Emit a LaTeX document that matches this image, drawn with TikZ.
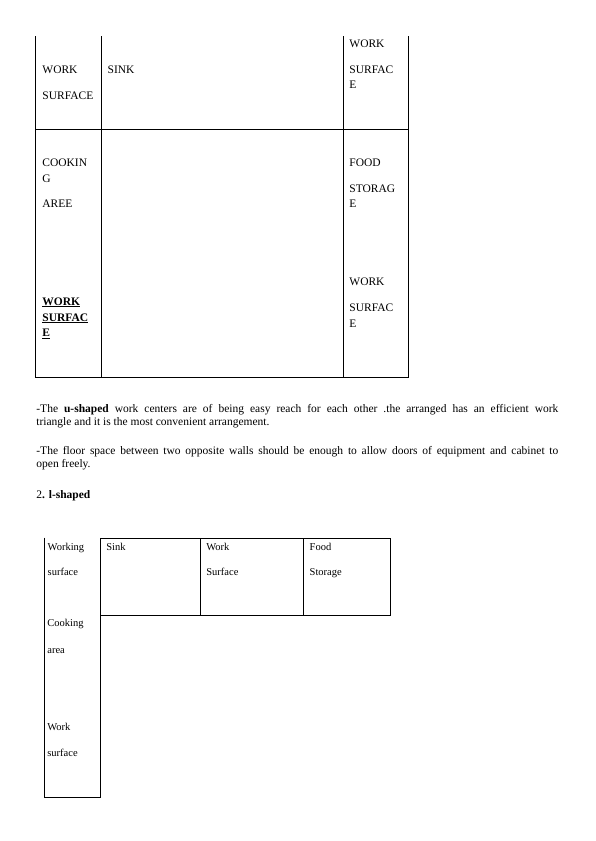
\documentclass[tikz,border=0pt]{standalone}
\usepackage{fontspec}
\setmainfont{Liberation Serif}

\begin{document}
\begin{tikzpicture}
[x=1pt,y=-1pt,line width=0.8pt,%
  every node/.style={anchor=base west,inner sep=0pt},%
  big/.style={font=\fontsize{11.5}{13}\selectfont},%
  small/.style={font=\fontsize{10.5}{13}\selectfont},%
  para/.style={font=\fontsize{11.5}{13}\selectfont,text width=522pt,align=justify}]
\useasboundingbox (0,0) rectangle (595,841);
%% u-shaped plan
\draw (35.5,36) -- (35.5,377.3) -- (408.3,377.3) -- (408.3,36);
\draw (101.5,36) -- (101.5,377.3);
\draw (343.5,36) -- (343.5,377.3);
\draw (35.5,129.5) -- (408.3,129.5);
\node[big] (wsa) at (42,73) {WORK};
\node[big] (wsb) at (42,99.5) {SURFACE};
\node[big] (sink) at (107.3,73) {SINK};
\node[big] (rwa) at (349,47.3) {WORK};
\node[big] (rwb) at (349,73) {SURFAC};
\node[big] (rwc) at (349,88) {E};
\node[big] (cka) at (42,166.7) {COOKIN};
\node[big] (ckb) at (42,182) {G};
\node[big] (ckc) at (42,207) {AREE};
\node[big] (fda) at (349,166.7) {FOOD};
\node[big] (fdb) at (349,192) {STORAG};
\node[big] (fdc) at (349,207) {E};
\node[big] (bwa) at (42,305) {\underline{\textbf{WORK}}};
\node[big] (bwb) at (42,321) {\underline{\textbf{SURFAC}}};
\node[big] (bwc) at (42,336.5) {\underline{\textbf{E}}};
\node[big] (swa) at (349,285.5) {WORK};
\node[big] (swb) at (349,311.7) {SURFAC};
\node[big] (swc) at (349,327.3) {E};
%% text
\node[para] (pa) at (36,412.3) {-The \textbf{u-shaped} work centers are of being easy reach for each other .the arranged has an efficient work\linebreak triangle and it is the most convenient arrangement.};
\node[para] (pb) at (36,454.3) {-The floor space between two opposite walls should be enough to allow doors of equipment and cabinet to\linebreak open freely.};
\node[para] (pc) at (36,498.5) {2\textbf{. l-shaped}};
%% l-shaped plan
\draw (44,537.5) -- (44,797) -- (100.7,797) -- (100.7,538.5);
\draw (100.7,538.5) rectangle (390,615.7);
\draw (200.7,538.5) -- (200.7,615.7);
\draw (303.3,538.5) -- (303.3,615.7);
\node[small] (wka) at (47.3,550) {Working};
\node[small] (wkb) at (47.3,575) {surface};
\node[small] (snk) at (106,550) {Sink};
\node[small] (wra) at (206,550) {Work};
\node[small] (wrb) at (206,575) {Surface};
\node[small] (fsa) at (309.3,550) {Food};
\node[small] (fsb) at (309.3,575) {Storage};
\node[small] (caa) at (47,626) {Cooking};
\node[small] (cab) at (47,653.3) {area};
\node[small] (wsc) at (47,730.7) {Work};
\node[small] (wsd) at (47,756) {surface};
\end{tikzpicture}
\end{document}
